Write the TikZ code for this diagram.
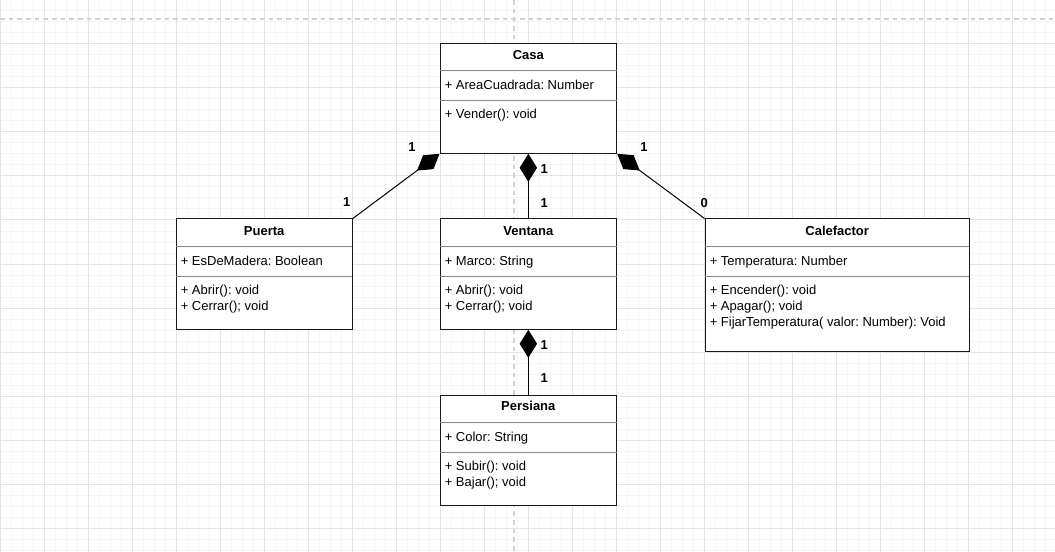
\documentclass[tikz,border=0pt]{standalone}
\usepackage{fontspec}
\setmainfont{Liberation Sans}
\usetikzlibrary{fit,arrows.meta}
\definecolor{minorgrid}{HTML}{F5F5F5}
\definecolor{majorgrid}{HTML}{E4E4E4}
\definecolor{pagebreak}{HTML}{D2D2D2}
\definecolor{sepgray}{HTML}{8A8A8A}
\frenchspacing
\begin{document}
\begin{tikzpicture}[x=0.75pt,y=-0.75pt,
  classbox/.style={draw=black!90, line width=0.75pt, inner sep=0pt, fill=white},
  sepline/.style={draw=sepgray, line width=0.6pt},
  title/.style={font=\fontsize{9.75pt}{11pt}\selectfont\bfseries, anchor=base, inner sep=0pt},
  member/.style={font=\fontsize{9.75pt}{11pt}\selectfont, anchor=base west, inner sep=0pt},
  mult/.style={font=\fontsize{9.75pt}{11pt}\selectfont\bfseries, inner sep=0pt},
  comp/.style={draw=black, line width=0.75pt, -{Diamond[length=21pt,width=13pt,fill=black]}}
]
\useasboundingbox (0,0) rectangle (1055,552);
\fill[white] (0,0) rectangle (1055,552);
% grid
\foreach \i in {0,...,95} \draw[minorgrid, line width=0.75pt] (\i*11,0) -- (\i*11,552);
\foreach \j in {0,...,50} \draw[minorgrid, line width=0.75pt] (0,\j*11) -- (1055,\j*11);
\foreach \i in {0,...,23} \draw[majorgrid, line width=0.75pt] (\i*44,0) -- (\i*44,552);
\foreach \j in {0,...,12} \draw[majorgrid, line width=0.75pt] (0,\j*44) -- (1055,\j*44);
% page break lines
\draw[pagebreak, line width=1.3pt, dash pattern=on 3.5pt off 3pt] (514,0) -- (514,552);
\draw[pagebreak, line width=1.3pt, dash pattern=on 3.5pt off 3pt] (0,19) -- (1055,19);

% boxes
\node[classbox, fit={(440,43.3) (616.7,153.3)}] (casa) {};
\node[classbox, fit={(176,219) (352.3,329)}] (puerta) {};
\node[classbox, fit={(440,219) (616.7,329.3)}] (ventana) {};
\node[classbox, fit={(705,219) (969.3,351)}] (calefactor) {};
\node[classbox, fit={(440,395.3) (616.7,505)}] (persiana) {};

% separators
\draw[sepline] (440,70.8) -- (616.7,70.8);
\draw[sepline] (440,100.8) -- (616.7,100.8);
\draw[sepline] (176,246.3) -- (352.3,246.3);
\draw[sepline] (176,276.3) -- (352.3,276.3);
\draw[sepline] (440,246.3) -- (616.7,246.3);
\draw[sepline] (440,276.3) -- (616.7,276.3);
\draw[sepline] (705,246.3) -- (969.3,246.3);
\draw[sepline] (705,276.3) -- (969.3,276.3);
\draw[sepline] (440,422.5) -- (616.7,422.5);
\draw[sepline] (440,452.5) -- (616.7,452.5);

% Casa
\node[title] (casaT) at (528.3,59.3) {Casa};
\node[member] (casaA) at (444.5,89.3) {+ AreaCuadrada: Number};
\node[member] (casaM1) at (444.5,118.8) {+ Vender(): void};
% Puerta
\node[title] (puertaT) at (264.2,235) {Puerta};
\node[member] (puertaA) at (180.5,265) {+ EsDeMadera: Boolean};
\node[member] (puertaM1) at (180.5,294.3) {+ Abrir(): void};
\node[member] (puertaM2) at (180.5,310.6) {+ Cerrar(); void};
% Ventana
\node[title] (ventanaT) at (528.3,235) {Ventana};
\node[member] (ventanaA) at (444.5,265) {+ Marco: String};
\node[member] (ventanaM1) at (444.5,294.3) {+ Abrir(): void};
\node[member] (ventanaM2) at (444.5,310.6) {+ Cerrar(); void};
% Calefactor
\node[title] (calefactorT) at (837.2,235) {Calefactor};
\node[member] (calefactorA) at (709.5,265) {+ Temperatura: Number};
\node[member] (calefactorM1) at (709.5,294.3) {+ Encender(): void};
\node[member] (calefactorM2) at (709.5,310.6) {+ Apagar(); void};
\node[member] (calefactorM3) at (709.5,326.7) {+ FijarTemperatura( valor: Number): Void};
% Persiana
\node[title] (persianaT) at (528.3,410.8) {Persiana};
\node[member] (persianaA) at (444.5,441) {+ Color: String};
\node[member] (persianaM1) at (444.5,470.7) {+ Subir(): void};
\node[member] (persianaM2) at (444.5,486.8) {+ Bajar(); void};

% composition connectors
\draw[comp] (puerta.north east) -- (casa.south west);
\draw[comp] (ventana.north) -- (casa.south);
\draw[comp] (calefactor.north west) -- (casa.south east);
\draw[comp] (persiana.north) -- (ventana.south);

% multiplicities
\node[mult] (m1) at (412,147.3) {1};
\node[mult] (m2) at (346.7,202.5) {1};
\node[mult] (m3) at (544.3,169.3) {1};
\node[mult] (m4) at (544.3,202.7) {1};
\node[mult] (m5) at (644,147.3) {1};
\node[mult] (m6) at (704.3,202.7) {0};
\node[mult] (m7) at (544.3,345) {1};
\node[mult] (m8) at (544.3,378.3) {1};
\end{tikzpicture}
\end{document}
